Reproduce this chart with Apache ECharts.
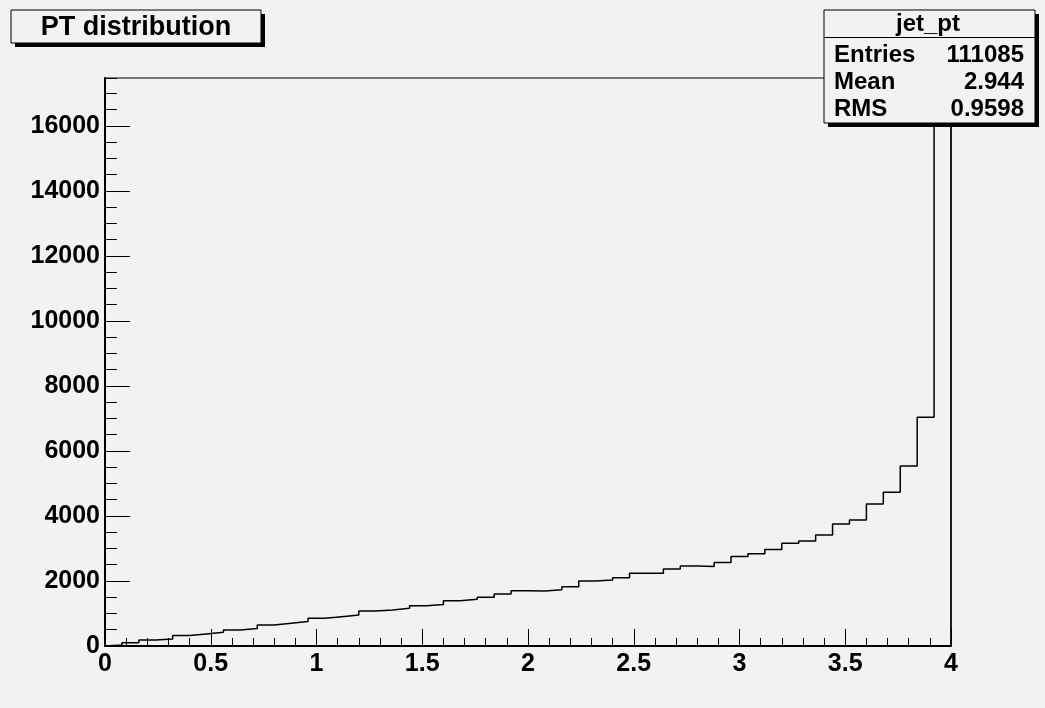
<!DOCTYPE html>
<html>
<head>
<meta charset="utf-8">
<script src="https://cdn.jsdelivr.net/npm/echarts@6/dist/echarts.min.js"></script>
<style>
  html, body { margin: 0; padding: 0; background: #f2f2f2; }
  #chart { width: 1045px; height: 708px; }
</style>
</head>
<body>
<div id="chart"></div>
<script>
// histogram jet_pt: 50 bins from 0 to 4
const xMin = 0;
const xMax = 4;
const binWidth = 0.08;
const counts = [
  30, 100, 185, 215, 320, 370, 420, 490, 540, 645,
  700, 750, 850, 900, 950, 1075, 1110, 1160, 1240, 1280,
  1395, 1435, 1500, 1600, 1700, 1690, 1730, 1825, 2000, 2030,
  2100, 2235, 2235, 2370, 2460, 2445, 2565, 2750, 2840, 2965,
  3160, 3230, 3415, 3755, 3875, 4370, 4730, 5540, 7035, 16640
];
const yMax = 17470;
const title = "PT distribution";
const statsName = "jet_pt";
const statsLabels = ["Entries", "Mean", "RMS"];
const statsValues = ["111085", "2.944", "0.9598"];

// outline points for a step line
const outline = [[xMin, 0]];
counts.forEach((c, i) => outline.push([+(xMin + i * binWidth).toFixed(4), c]));
outline.push([xMax, counts[counts.length - 1]]);
outline.push([xMax, 0]);

const font = "Liberation Sans, Arial, Helvetica, sans-serif";
const chart = echarts.init(document.getElementById("chart"), null, { renderer: "canvas" });

const statsGraphic = [];
const sx = 824, sy = 10, sw = 211, sh = 113;
statsGraphic.push({ type: "rect", z: 100, shape: { x: sx + 4, y: sy + 4, width: sw, height: sh }, style: { fill: "#000" } });
statsGraphic.push({ type: "rect", z: 101, shape: { x: sx, y: sy, width: sw, height: sh }, style: { fill: "#f2f2f2", stroke: "#000", lineWidth: 1 } });
statsGraphic.push({ type: "line", z: 102, shape: { x1: sx, y1: 37.5, x2: sx + sw, y2: 37.5 }, style: { stroke: "#000", lineWidth: 1 } });
statsGraphic.push({ type: "text", z: 102, x: 928, y: 24, style: { text: statsName, font: "bold 24px " + font, fill: "#000", align: "center", verticalAlign: "middle" } });
statsLabels.forEach((lab, i) => {
  const yy = 55 + i * 27;
  statsGraphic.push({ type: "text", z: 102, x: 834, y: yy, style: { text: lab, font: "bold 24px " + font, fill: "#000", align: "left", verticalAlign: "middle" } });
  statsGraphic.push({ type: "text", z: 102, x: 1024, y: yy, style: { text: statsValues[i], font: "bold 24px " + font, fill: "#000", align: "right", verticalAlign: "middle" } });
});

chart.setOption({
  backgroundColor: "#f2f2f2",
  animation: false,
  grid: {
    left: 105, right: 94, top: 78, bottom: 62,
    show: true, borderColor: "#000", borderWidth: 1, backgroundColor: "transparent"
  },
  xAxis: {
    type: "value",
    min: xMin, max: xMax, interval: 0.5,
    axisLine: { lineStyle: { color: "#000", width: 2 } },
    axisTick: { inside: true, length: 17, lineStyle: { color: "#000", width: 1 } },
    minorTick: { show: true, splitNumber: 5, length: 8, lineStyle: { color: "#000", width: 1 } },
    splitLine: { show: false },
    axisLabel: { color: "#000", fontWeight: "bold", fontSize: 25, fontFamily: font, margin: 6 }
  },
  yAxis: [
    {
      type: "value",
      min: 0, max: yMax, interval: 2000,
      axisLine: { show: true, lineStyle: { color: "#000", width: 2 } },
      axisTick: { show: true, inside: true, length: 25, lineStyle: { color: "#000", width: 1 } },
      splitLine: { show: false },
      axisLabel: {
        color: "#000", fontWeight: "bold", fontSize: 25, fontFamily: font, margin: 5, showMaxLabel: false,
        formatter: (v) => String(v)
      }
    },
    {
      type: "value",
      min: 0, max: yMax, interval: 500,
      position: "left", offset: 0,
      axisLine: { show: false },
      axisTick: { show: true, inside: true, length: 12, lineStyle: { color: "#000", width: 1 } },
      splitLine: { show: false },
      axisLabel: { show: false }
    }
  ],
  series: [{
    type: "line",
    yAxisIndex: 0,
    step: "end",
    data: outline,
    symbol: "none",
    lineStyle: { color: "#000", width: 1.5 },
    z: 3
  }],
  graphic: [
    { type: "rect", z: 100, shape: { x: 15, y: 14, width: 250, height: 33 }, style: { fill: "#000" } },
    { type: "rect", z: 101, shape: { x: 11, y: 10, width: 250, height: 33 }, style: { fill: "#f2f2f2", stroke: "#000", lineWidth: 1 } },
    { type: "text", z: 102, x: 136, y: 28, style: { text: title, font: "bold 27px " + font, fill: "#000", align: "center", verticalAlign: "middle" } }
  ].concat(statsGraphic)
});
</script>
</body>
</html>
